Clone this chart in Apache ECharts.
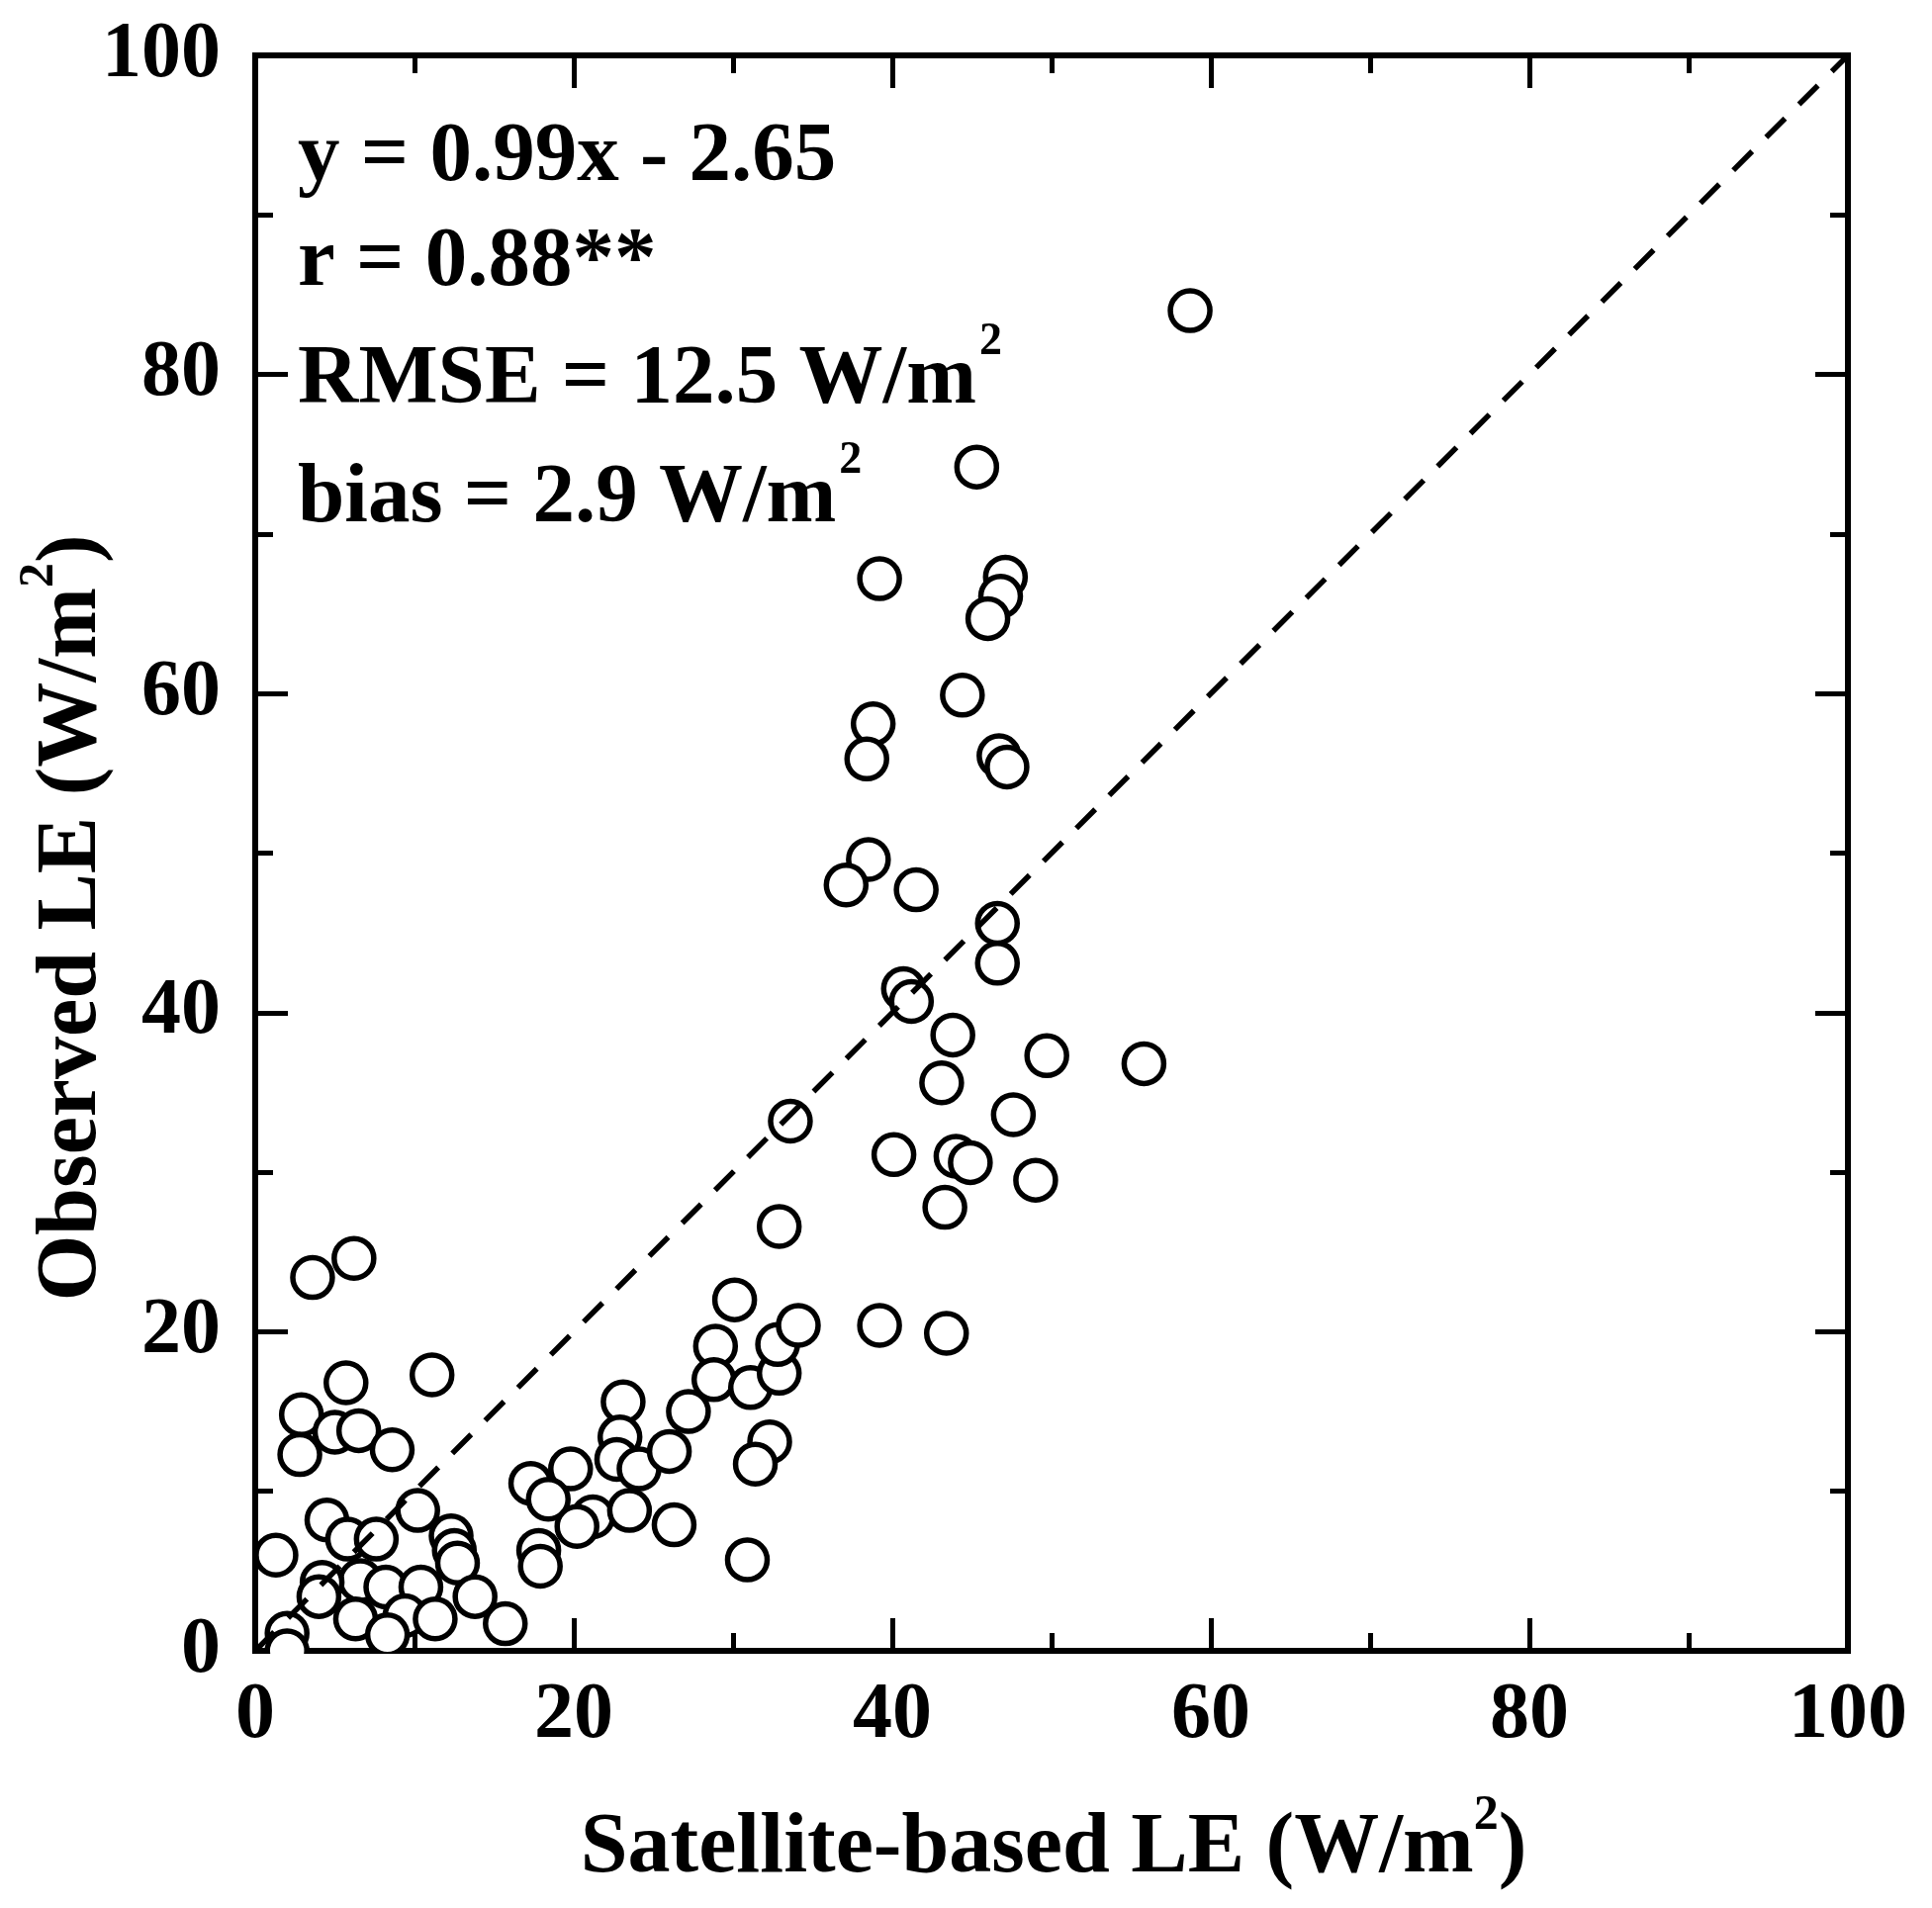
<!DOCTYPE html>
<html>
<head>
<meta charset="utf-8">
<script src="https://cdn.jsdelivr.net/npm/echarts@6/dist/echarts.min.js"></script>
<style>
  html, body { margin: 0; padding: 0; background: #fff; }
  #chart { width: 1953px; height: 1929px; }
</style>
</head>
<body>
<div id="chart"></div>
<script>
// Satellite-based LE (x) and observed LE (y), W/m2
const satelliteLE = [
  3.6, 6.2, 5.7, 2.9, 5.0, 6.5, 2.8, 8.6, 11.1, 1.3,
  4.5, 5.8, 7.6, 10.2, 12.3, 12.5, 12.7, 6.6, 4.2, 4.0,
  8.2, 10.4, 13.8, 6.3, 9.4, 11.3, 15.7, 2.0, 2.0, 8.3,
  23.1, 22.9, 22.7, 24.1, 26.0, 19.8, 17.3, 18.4, 21.2, 20.2,
  23.5, 26.3, 17.8, 17.9, 27.2, 28.9, 28.8, 30.1, 31.1, 32.9,
  32.8, 34.1, 32.3, 31.4, 30.9, 32.9, 33.6,
  38.5, 37.1, 41.5, 46.6, 46.6, 40.7, 41.2, 43.8, 49.7, 55.8,
  43.1, 47.6, 40.1, 44.0, 44.9, 49.0, 43.3, 39.2, 43.4,
  58.7, 45.3, 39.2, 47.1, 46.8, 46.0, 44.4, 38.8, 38.4, 46.7, 47.2
];
const observedLE = [
  23.4, 24.6, 16.8, 14.8, 13.7, 13.8, 12.3, 12.6, 17.3, 6.0,
  8.2, 7.0, 7.0, 8.8, 7.2, 6.3, 5.5, 4.4, 4.3, 3.4,
  4.0, 4.0, 3.4, 2.0, 2.2, 2.0, 1.7, 1.1, 0.0, 1.0,
  15.6, 13.4, 12.0, 11.4, 12.5, 11.4, 10.5, 9.5, 8.4, 7.8,
  8.8, 7.9, 6.3, 5.3, 15.0, 19.1, 17.0, 22.0, 16.5, 17.4,
  19.2, 20.4, 13.1, 11.7, 5.7, 26.6, 33.2,
  49.6, 48.0, 47.7, 45.6, 43.1, 41.5, 40.7, 38.6, 37.3, 36.8,
  35.6, 33.6, 31.1, 31.0, 30.6, 29.5, 27.8, 20.4, 19.9,
  84.0, 74.2, 67.2, 67.3, 66.1, 64.7, 59.9, 58.1, 55.9, 56.1, 55.4
];
const oneToOneLine = [[0, 0], [100, 100]];
const axisMin = 0, axisMax = 100, axisStep = 20;
const statLines = [
  { main: 'y = 0.99x - 2.65', sup: '' },
  { main: 'r = 0.88**', sup: '' },
  { main: 'RMSE = 12.5 W/m', sup: '2' },
  { main: 'bias = 2.9 W/m', sup: '2' }
];
const xTitle = { main: 'Satellite-based LE (W/m', sup: '2', tail: ')' };
const yTitle = { main: 'Observed LE (W/m', sup: '2', tail: ')' };

const FONT = '"Liberation Serif", "Times New Roman", serif';
const chart = echarts.init(document.getElementById('chart'), null, { renderer: 'canvas' });

function axisCommon(pos, showLabel) {
  return {
    type: 'value', position: pos, min: axisMin, max: axisMax, interval: axisStep,
    axisLine: { show: false, onZero: false },
    splitLine: { show: false },
    axisTick: { show: true, inside: true, length: 33, lineStyle: { color: '#000', width: 5 } },
    minorTick: { show: true, splitNumber: 2, length: 18, lineStyle: { color: '#000', width: 5 } },
    axisLabel: {
      show: showLabel, color: '#000', fontFamily: FONT, fontWeight: 'bold', fontSize: 80,
      margin: (pos === 'left' || pos === 'right') ? 35 : 26
    }
  };
}

function statText(line, y) {
  const txt = line.sup ? '{a|' + line.main + '}{s|' + line.sup + '}' : '{a|' + line.main + '}';
  return {
    type: 'text', x: 301, y: y, z: 100,
    style: {
      text: txt, align: 'left', verticalAlign: 'middle',
      rich: {
        a: { fontFamily: FONT, fontWeight: 'bold', fontSize: 85, lineHeight: 124, fill: '#000' },
        s: { fontFamily: FONT, fontWeight: 'bold', fontSize: 46, lineHeight: 46, verticalAlign: 'top', fill: '#000', padding: [0, 0, 0, 3] }
      }
    }
  };
}

function titleRich() {
  return {
    a: { fontFamily: FONT, fontWeight: 'bold', fontSize: 86, lineHeight: 118, fill: '#000' },
    s: { fontFamily: FONT, fontWeight: 'bold', fontSize: 50, lineHeight: 50, verticalAlign: 'top', fill: '#000' }
  };
}

const option = {
  backgroundColor: '#fff',
  animation: false,
  grid: { left: 258, top: 56, right: 85, bottom: 260, show: true, borderColor: '#000', borderWidth: 6, backgroundColor: 'transparent' },
  xAxis: [axisCommon('bottom', true), axisCommon('top', false)],
  yAxis: [axisCommon('left', true), axisCommon('right', false)],
  series: [
    {
      type: 'scatter', xAxisIndex: 0, yAxisIndex: 0, z: 2,
      symbol: 'circle', symbolSize: 40,
      itemStyle: { color: '#fff', borderColor: '#000', borderWidth: 5.5, opacity: 1 },
      data: satelliteLE.map((x, i) => [x, observedLE[i]])
    },
    {
      type: 'line', xAxisIndex: 0, yAxisIndex: 0, z: 3,
      symbol: 'none', silent: true,
      lineStyle: { color: '#000', width: 5.5, type: [27, 20] },
      data: oneToOneLine
    }
  ],
  graphic: [
    // white mask just below the plot frame (symbols are cut at the frame in the reference)
    { type: 'rect', shape: { x: 256, y: 1672, width: 1640, height: 22 }, style: { fill: '#fff' }, z: 50 },
    statText(statLines[0], 160),
    statText(statLines[1], 266),
    statText(statLines[2], 385),
    statText(statLines[3], 505),
    {
      type: 'text', x: 1065, y: 1870, z: 100,
      style: {
        text: '{a|' + xTitle.main + '}{s|' + xTitle.sup + '}{a|' + xTitle.tail + '}',
        align: 'center', verticalAlign: 'middle', rich: titleRich()
      }
    },
    {
      type: 'text', x: 74, y: 928, rotation: Math.PI / 2, z: 100,
      style: {
        text: '{a|' + yTitle.main + '}{s|' + yTitle.sup + '}{a|' + yTitle.tail + '}',
        align: 'center', verticalAlign: 'middle', rich: titleRich()
      }
    }
  ]
};
chart.setOption(option);
</script>
</body>
</html>
